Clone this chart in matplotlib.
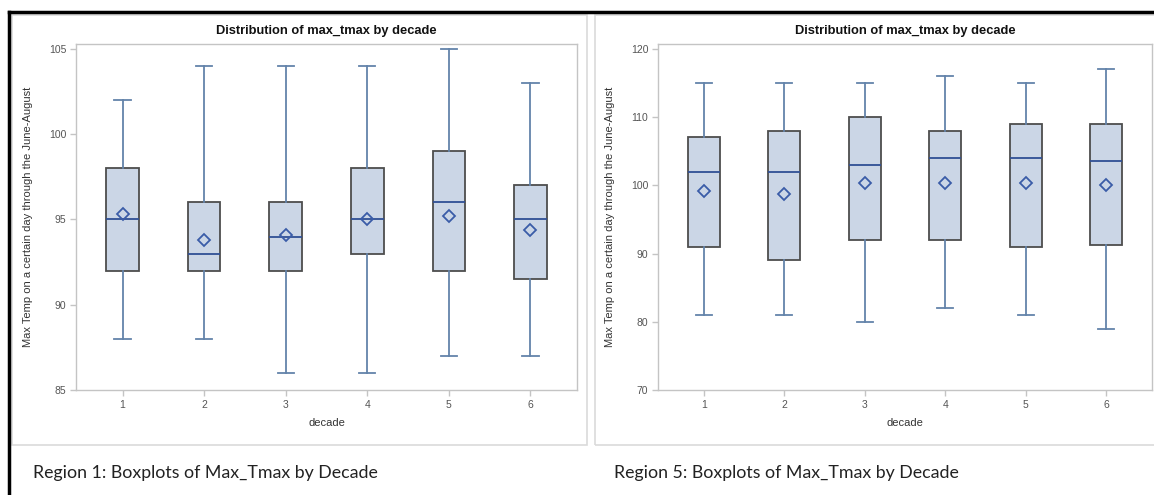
import matplotlib
matplotlib.use("Agg")
import matplotlib.pyplot as plt
from matplotlib.lines import Line2D
from matplotlib.patches import Rectangle

# decades on the x axis
decades = [1, 2, 3, 4, 5, 6]

# Region 1 box statistics
r1_low = [88, 88, 86, 86, 87, 87]
r1_q1 = [92, 92, 92, 93, 92, 91.5]
r1_med = [95, 93, 94, 95, 96, 95]
r1_mean = [95.3, 93.8, 94.1, 95.0, 95.2, 94.4]
r1_q3 = [98, 96, 96, 98, 99, 97]
r1_high = [102, 104, 104, 104, 105, 103]

# Region 5 box statistics
r5_low = [81, 81, 80, 82, 81, 79]
r5_q1 = [91, 89, 92, 92, 91, 91.3]
r5_med = [102, 102, 103, 104, 104, 103.5]
r5_mean = [99.2, 98.7, 100.4, 100.3, 100.3, 100.1]
r5_q3 = [107, 108, 110, 108, 109, 109]
r5_high = [115, 115, 115, 116, 115, 117]

r1_ticks = [85, 90, 95, 100, 105]
r5_ticks = [70, 80, 90, 100, 110, 120]

title = "Distribution of max_tmax by decade"
ylabel = "Max Temp on a certain day through the June-August"
xlabel = "decade"
captions = ["Region 1: Boxplots of Max_Tmax by Decade",
            "Region 5: Boxplots of Max_Tmax by Decade"]

W, H = 1154, 495
sas_font = ["Liberation Sans Narrow", "Liberation Sans", "DejaVu Sans"]
cap_font = ["Lato", "Open Sans", "DejaVu Sans"]

fill = "#cbd6e6"
edge = "#4d4d4d"
whisk = "#6383aa"
med_c = "#2f4f95"
mean_c = "#3a5ca8"
spine_c = "#c4c4c4"
tick_txt = "#555555"


def px_rect(x0, y0, x1, y1):
    # pixel box (top-left origin) -> figure fraction
    return [x0 / W, 1 - y1 / H, (x1 - x0) / W, (y1 - y0) / H]


def draw_panel(ax, low, q1, med, mean, q3, high, ylim, yticks):
    stats = []
    for i in range(len(decades)):
        stats.append(dict(whislo=low[i], q1=q1[i], med=med[i], mean=mean[i],
                          q3=q3[i], whishi=high[i], fliers=[]))
    ax.bxp(stats, positions=decades, widths=0.4, capwidths=0.2,
           showmeans=True, showfliers=False, patch_artist=True,
           boxprops=dict(facecolor=fill, edgecolor=edge, linewidth=1.3),
           whiskerprops=dict(color=whisk, linewidth=1.3),
           capprops=dict(color=whisk, linewidth=1.3),
           medianprops=dict(color=med_c, linewidth=1.3),
           meanprops=dict(marker="D", markerfacecolor="none",
                          markeredgecolor=mean_c, markeredgewidth=1.3,
                          markersize=6.5))
    ax.set_xlim(0.43, 6.57)
    ax.set_ylim(*ylim)
    ax.set_yticks(yticks)
    ax.set_xticks(decades)
    ax.set_xticklabels([str(d) for d in decades])
    for s in ax.spines.values():
        s.set_color(spine_c)
        s.set_linewidth(1.0)
    ax.tick_params(colors=spine_c, labelcolor=tick_txt, length=4, width=1,
                   labelsize=7.5, pad=3)
    for lab in ax.get_xticklabels() + ax.get_yticklabels():
        lab.set_family(sas_font)
    ax.set_title(title, fontsize=9.3, fontweight="bold", family=sas_font,
                 color="#111111", pad=7)
    ax.set_xlabel(xlabel, fontsize=8, family=sas_font, color="#333333",
                  labelpad=6)
    ax.set_ylabel(ylabel, fontsize=8, family=sas_font, color="#333333")


fig = plt.figure(figsize=(W / 100, H / 100), dpi=100)
fig.patch.set_facecolor("white")

# light panel frames
for x0, x1 in [(12, 587), (595, 1162)]:
    fig.add_artist(Rectangle((x0 / W, 1 - 445 / H), (x1 - x0) / W,
                             (445 - 15) / H, transform=fig.transFigure,
                             facecolor="none", edgecolor="#dadada",
                             linewidth=1.2))

ax1 = fig.add_axes(px_rect(76, 44, 577, 390))
draw_panel(ax1, r1_low, r1_q1, r1_med, r1_mean, r1_q3, r1_high,
           (85, 105.29), r1_ticks)
ax1.yaxis.set_label_coords(-0.085, 0.5)

ax2 = fig.add_axes(px_rect(658, 44, 1152, 390))
draw_panel(ax2, r5_low, r5_q1, r5_med, r5_mean, r5_q3, r5_high,
           (70, 120.7), r5_ticks)
ax2.yaxis.set_label_coords(-0.087, 0.5)

# captions below the panels
fig.text(33 / W, 1 - 473 / H, captions[0], fontsize=12.8, family=cap_font,
         va="center", ha="left", color="#222222")
fig.text(614 / W, 1 - 473 / H, captions[1], fontsize=12.8, family=cap_font,
         va="center", ha="left", color="#222222")

# black outer border (top and left)
fig.add_artist(Line2D([9 / W, 1.0], [1 - 12 / H, 1 - 12 / H],
                      transform=fig.transFigure, color="black", linewidth=2.5))
fig.add_artist(Line2D([9 / W, 9 / W], [0, 1 - 12 / H],
                      transform=fig.transFigure, color="black", linewidth=2.5))

fig.savefig("out.png", dpi=100)
